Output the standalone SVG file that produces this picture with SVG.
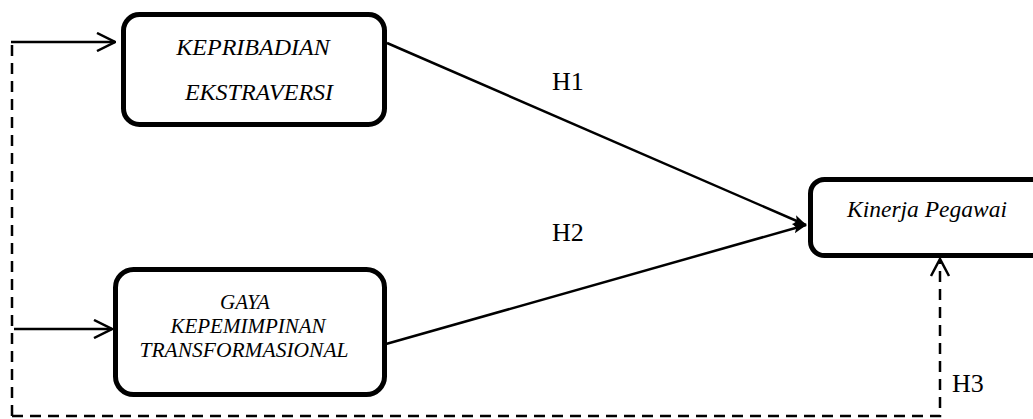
<svg xmlns="http://www.w3.org/2000/svg" width="1033" height="419" viewBox="0 0 1033 419">
<style>
.box{fill:#fff;stroke:#000;stroke-width:5}
.lbl{font-family:"Liberation Serif","Times New Roman",serif;font-style:italic;fill:#000}
.h{font-family:"Liberation Serif","Times New Roman",serif;font-size:26px;fill:#000}
.ln{fill:none;stroke:#000;stroke-width:2.5}
.dash{fill:none;stroke:#000;stroke-width:2.5;stroke-dasharray:11 7}
</style>
<defs>
<marker id="open" viewBox="0 0 20 20" refX="19" refY="10" markerWidth="20" markerHeight="20" markerUnits="userSpaceOnUse" orient="auto">
<path d="M1,1 L19,10 L1,19" fill="none" stroke="#000" stroke-width="2.5"/>
</marker>
<marker id="fill" viewBox="0 0 14 12" refX="13" refY="6" markerWidth="14" markerHeight="12" markerUnits="userSpaceOnUse" orient="auto">
<path d="M0,1 L14,6 L0,11 L3,6 Z" fill="#000"/>
</marker>
</defs>
<rect width="1033" height="419" fill="#fff"/>
<g id="connectors">
<line class="ln" x1="387" y1="43" x2="806" y2="225" marker-end="url(#fill)"/>
<line class="ln" x1="386" y1="344" x2="806" y2="225" marker-end="url(#fill)"/>
<polyline class="dash" points="12,416 12,42"/>
<line class="ln" x1="11" y1="42" x2="115" y2="42" marker-end="url(#open)"/>
<line class="ln" x1="14" y1="329" x2="112" y2="329" marker-end="url(#open)"/>
<polyline class="dash" points="12,416 940,416 940,260"/>
<path d="M931,276 L940,259 L949,276" fill="none" stroke="#000" stroke-width="2.5"/>
<text class="h" x="552" y="90">H1</text>
<text class="h" x="552" y="241">H2</text>
<text class="h" x="952" y="392">H3</text>
</g>
<g id="node-kepribadian">
<rect class="box" x="123.5" y="14.5" width="261" height="110" rx="16"/>
<text class="lbl" font-size="24" x="253" y="55" text-anchor="middle">KEPRIBADIAN</text>
<text class="lbl" font-size="24" x="259" y="100" text-anchor="middle">EKSTRAVERSI</text>
</g>
<g id="node-gaya">
<rect class="box" x="115.5" y="269.5" width="269" height="125" rx="18"/>
<text class="lbl" font-size="21" x="245" y="309" text-anchor="middle">GAYA</text>
<text class="lbl" font-size="21" x="248" y="333" text-anchor="middle">KEPEMIMPINAN</text>
<text class="lbl" font-size="21.5" x="244" y="357" text-anchor="middle">TRANSFORMASIONAL</text>
</g>
<g id="node-kinerja">
<rect class="box" x="810.5" y="179.5" width="240" height="76" rx="14"/>
<text class="lbl" font-size="23.5" x="847" y="217">Kinerja Pegawai</text>
</g>
</svg>
